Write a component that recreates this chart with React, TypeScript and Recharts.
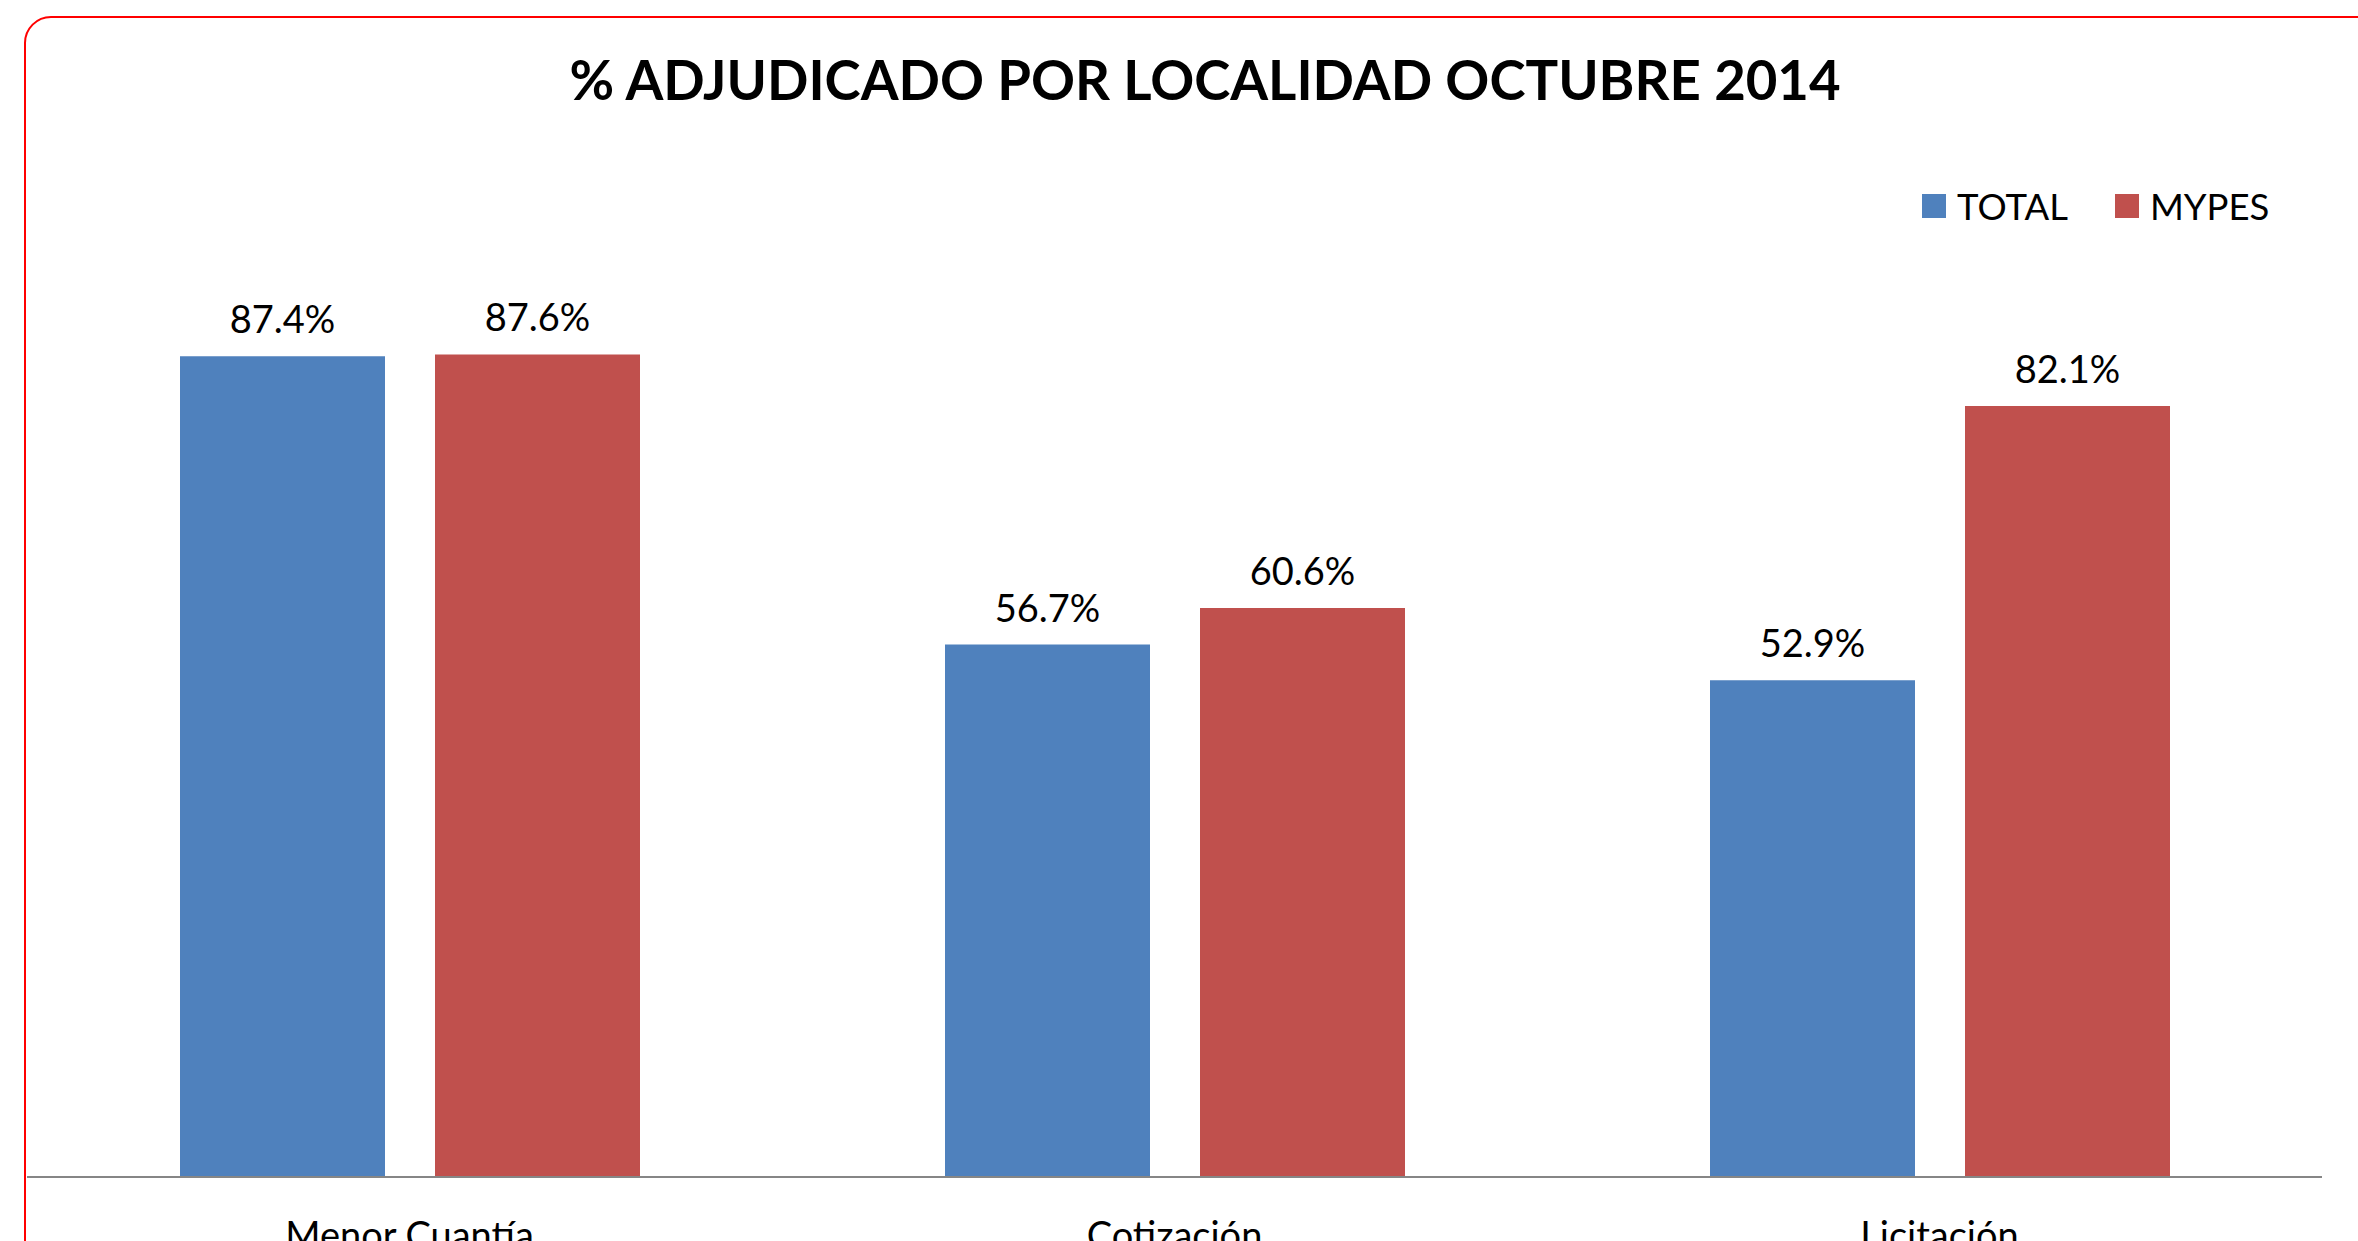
import { BarChart, Bar, XAxis, YAxis, Legend, LabelList } from 'recharts';

const categories = ['Menor Cuantía', 'Cotización', 'Licitación'];
const totalValues = [87.4, 56.7, 52.9];
const mypesValues = [87.6, 60.6, 82.1];

const series = [
  { key: 'total', name: 'TOTAL', color: '#4F81BD' },
  { key: 'mypes', name: 'MYPES', color: '#C0504D' },
];

const data = categories.map((name, i) => ({
  name,
  total: totalValues[i],
  mypes: mypesValues[i],
}));

const FONT = 'Lato, "Open Sans", sans-serif';

const renderLegend = () => (
  <div style={{ display: 'flex', alignItems: 'center', fontFamily: FONT, fontSize: 36.5, color: '#000' }}>
    {series.map((s, i) => (
      <div key={s.key} style={{ display: 'flex', alignItems: 'center', marginRight: i === 0 ? 47 : 0 }}>
        <div style={{ width: 24, height: 24, background: s.color, marginRight: 11 }}></div>
        <span>{s.name}</span>
      </div>
    ))}
  </div>
);

export default function App() {
  return (
    <div
      style={{
        position: 'absolute',
        left: 0,
        top: 0,
        width: 2358,
        height: 1241,
        overflow: 'hidden',
        background: '#fff',
      }}
    >
      {/* rounded red frame, runs off the right and bottom edges */}
      <div
        style={{
          position: 'absolute',
          left: 24,
          top: 16,
          width: 2420,
          height: 1320,
          border: '2px solid #FF0000',
          borderRadius: 27,
          boxSizing: 'border-box',
        }}
      ></div>
      <div
        style={{
          position: 'absolute',
          left: 0,
          top: 49,
          width: 2410,
          textAlign: 'center',
          fontFamily: FONT,
          fontWeight: 700,
          fontSize: 54.5,
          color: '#000',
          lineHeight: '60px',
        }}
      >
        % ADJUDICADO POR LOCALIDAD OCTUBRE 2014
      </div>
      <div style={{ position: 'absolute', left: 0, top: 0 }}>
        <BarChart
          width={2358}
          height={1241}
          data={data}
          margin={{ top: 238, right: 36, bottom: 0, left: 27 }}
          barCategoryGap="20%"
          barGap={50}
        >
          <XAxis
            dataKey="name"
            height={64}
            tickLine={false}
            tickSize={0}
            tickMargin={45}
            axisLine={{ stroke: '#868686', strokeWidth: 2 }}
            tick={{ fill: '#000', fontSize: 38, fontFamily: FONT }}
            interval={0}
          />
          <YAxis hide domain={[0, 100]} />
          <Legend
            verticalAlign="middle"
            align="center"
            layout="horizontal"
            content={renderLegend}
            wrapperStyle={{ top: 184, left: 1922, right: 'auto', width: 420, height: 46 }}
          />
          {series.map((s) => (
            <Bar key={s.key} dataKey={s.key} name={s.name} fill={s.color} isAnimationActive={false}>
              <LabelList
                dataKey={s.key}
                position="top"
                offset={23}
                formatter={(v: number) => v.toFixed(1) + '%'}
                style={{ fill: '#000', fontSize: 38, fontFamily: FONT }}
              />
            </Bar>
          ))}
        </BarChart>
      </div>
    </div>
  );
}
